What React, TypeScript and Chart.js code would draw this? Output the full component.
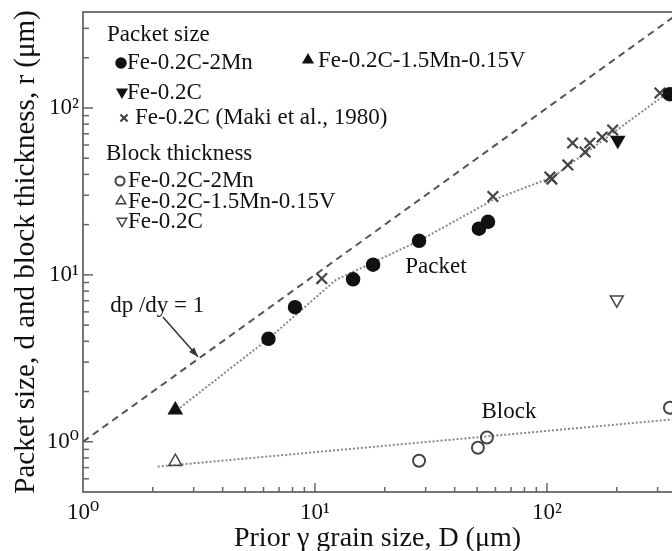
import React, { useEffect, useRef } from 'react';
import { Chart, registerables } from 'chart.js';
import { drawPoint } from 'chart.js/helpers';

Chart.register(...registerables);

type P = [number, number];

// ---- data (D in µm, size in µm) ----
const packetFe02C2Mn: P[] = [
  [6.3, 4.14], [8.2, 6.4], [14.6, 9.4], [17.8, 11.5], [28.1, 16.0],
  [50.9, 18.9], [55.7, 20.8], [338, 121],
];
const packetFe02C15Mn015V: P[] = [[2.5, 1.55]];
const packetFe02C: P[] = [[202, 64]];
const packetMaki1980: P[] = [
  [10.7, 9.5], [58.5, 29.5], [103, 38.6], [105, 37.5], [123, 45.6], [129, 61.7],
  [146, 54.5], [153, 61.7], [173, 67], [192, 73.8], [307, 123],
];
const blockFe02C2Mn: P[] = [[28.1, 0.77], [50.4, 0.92], [55.1, 1.06], [339, 1.6]];
const blockFe02C15Mn015V: P[] = [[2.5, 0.76]];
const blockFe02C: P[] = [[200, 7.1]];

const slopeOneLine: P[] = [[1, 1], [400, 400]];
const packetTrend: P[] = [
  [2.62, 1.6], [6.3, 4.14], [12.3, 9.33], [28.1, 16.0], [58.5, 28.1], [106, 38.6], [336, 125],
];
const blockTrend: P[] = [[2.1, 0.71], [345, 1.36]];

const xTickValues = [1, 10, 100];
const xTickLabels = ['10⁰', '10¹', '10²'];
const yTickValues = [1, 10, 100];
const yTickLabels = ['10⁰', '10¹', '10²'];

const SERIF = '"Liberation Serif", "Times New Roman", "DejaVu Serif", serif';
const INK = '#111';

const xy = (a: P[]) => a.map(([x, y]) => ({ x, y }));

const labelFor = (vals: number[], labels: string[]) => (value: number | string) => {
  const v = Number(value);
  const i = vals.findIndex((t) => Math.abs(t - v) < 1e-6 * t);
  return i >= 0 ? labels[i] : '';
};

// legend layout (pixel positions inside the plot)
const legendHeaders = [
  { text: 'Packet size', x: 107, y: 35 },
  { text: 'Block thickness', x: 106, y: 154 },
];
const legendEntries = [
  { ds: 0, mx: 121, my: 63, tx: 127, ty: 63 },
  { ds: 1, mx: 308, my: 60, tx: 318, ty: 61 },
  { ds: 2, mx: 122, my: 92, tx: 127, ty: 93 },
  { ds: 3, mx: 124, my: 118, tx: 135, ty: 118 },
  { ds: 4, mx: 120, my: 181, tx: 128, ty: 181 },
  { ds: 5, mx: 121, my: 201, tx: 128, ty: 202 },
  { ds: 6, mx: 122, my: 221, tx: 128, ty: 222 },
];
const legendTexts = [
  'Fe-0.2C-2Mn', 'Fe-0.2C-1.5Mn-0.15V', 'Fe-0.2C', 'Fe-0.2C (Maki et al., 1980)',
  'Fe-0.2C-2Mn', 'Fe-0.2C-1.5Mn-0.15V', 'Fe-0.2C',
];
const legendRadius = [5, 5.5, 5.5, 5, 4.5, 5.5, 5.5];

// annotations in data coordinates
const notes = [
  { text: 'Packet', x: 33.2, y: 11.2, align: 'center' as CanvasTextAlign },
  { text: 'Block', x: 68.6, y: 1.51, align: 'center' as CanvasTextAlign },
  { text: 'dp /dy = 1', x: 1.31, y: 6.52, align: 'left' as CanvasTextAlign },
];
const arrowFrom: P = [2.21, 5.6];
const arrowTo: P = [3.13, 3.23];

const isNice = (v: number) => {
  const e = Math.floor(Math.log10(v) + 1e-9);
  const m = v / Math.pow(10, e);
  return Math.abs(m - Math.round(m)) < 1e-6 ? Math.round(m) : 0;
};

const decorPlugin = {
  id: 'decor',
  afterDatasetsDraw(chart: any) {
    const { ctx, chartArea } = chart;
    const { left, right, top, bottom } = chartArea;
    const xs = chart.scales.x;
    const ys = chart.scales.y;
    ctx.save();
    // inward ticks
    ctx.strokeStyle = '#666';
    ctx.lineWidth = 1.5;
    for (const t of xs.ticks) {
      const m = isNice(t.value);
      if (!m) continue;
      const px = xs.getPixelForValue(t.value);
      if (px < left + 1 || px > right) continue;
      const len = m === 1 ? 9 : 5;
      ctx.beginPath();
      ctx.moveTo(px, bottom);
      ctx.lineTo(px, bottom - len);
      ctx.stroke();
    }
    for (const t of ys.ticks) {
      const m = isNice(t.value);
      if (!m) continue;
      const py = ys.getPixelForValue(t.value);
      if (py < top || py > bottom - 1) continue;
      const len = m === 1 ? 10 : 6;
      ctx.beginPath();
      ctx.moveTo(left, py);
      ctx.lineTo(left + len, py);
      ctx.stroke();
    }
    // top frame line
    ctx.strokeStyle = '#777';
    ctx.lineWidth = 2;
    ctx.beginPath();
    ctx.moveTo(left, top);
    ctx.lineTo(right, top);
    ctx.stroke();

    // annotations
    ctx.fillStyle = INK;
    ctx.font = `23px ${SERIF}`;
    ctx.textBaseline = 'middle';
    for (const n of notes) {
      ctx.textAlign = n.align;
      ctx.fillText(n.text, xs.getPixelForValue(n.x), ys.getPixelForValue(n.y));
    }
    // arrow
    const ax1 = xs.getPixelForValue(arrowFrom[0]);
    const ay1 = ys.getPixelForValue(arrowFrom[1]);
    const ax2 = xs.getPixelForValue(arrowTo[0]);
    const ay2 = ys.getPixelForValue(arrowTo[1]);
    ctx.strokeStyle = '#333';
    ctx.lineWidth = 1.5;
    ctx.beginPath();
    ctx.moveTo(ax1, ay1);
    ctx.lineTo(ax2, ay2);
    ctx.stroke();
    const ang = Math.atan2(ay2 - ay1, ax2 - ax1);
    ctx.beginPath();
    ctx.moveTo(ax2, ay2);
    ctx.lineTo(ax2 - 10 * Math.cos(ang - 0.35), ay2 - 10 * Math.sin(ang - 0.35));
    ctx.lineTo(ax2 - 10 * Math.cos(ang + 0.35), ay2 - 10 * Math.sin(ang + 0.35));
    ctx.closePath();
    ctx.fillStyle = '#333';
    ctx.fill();

    // legend
    ctx.fillStyle = INK;
    ctx.textAlign = 'left';
    for (const h of legendHeaders) ctx.fillText(h.text, h.x, h.y);
    legendEntries.forEach((e, i) => {
      const ds = chart.data.datasets[e.ds];
      ctx.fillStyle = ds.pointBackgroundColor;
      ctx.strokeStyle = ds.pointBorderColor;
      ctx.lineWidth = ds.pointBorderWidth;
      drawPoint(ctx, {
        pointStyle: ds.pointStyle,
        rotation: ds.pointRotation || 0,
        radius: legendRadius[i],
        borderWidth: ds.pointBorderWidth,
      } as any, e.mx, e.my);
      ctx.fillStyle = INK;
      ctx.fillText(legendTexts[i], e.tx, e.ty);
    });
    ctx.restore();
  },
};

const markerSet = (
  label: string, data: P[], style: string, filled: boolean, radius: number, rotation = 0, width = 1.5,
) => ({
  type: 'scatter' as const,
  label,
  data: xy(data),
  showLine: false,
  pointStyle: style,
  pointRotation: rotation,
  pointRadius: radius,
  pointHoverRadius: radius,
  pointBackgroundColor: filled ? INK : 'rgba(255,255,255,0)',
  pointBorderColor: filled ? INK : '#444',
  pointBorderWidth: width,
});

const lineSet = (label: string, data: P[], color: string, dash: number[], width: number) => ({
  type: 'line' as const,
  label,
  data: xy(data),
  borderColor: color,
  borderWidth: width,
  borderDash: dash,
  pointRadius: 0,
  fill: false,
  tension: 0,
});

export default function App() {
  const ref = useRef<HTMLCanvasElement>(null);
  useEffect(() => {
    if (!ref.current) return;
    const chart = new Chart(ref.current, {
      type: 'scatter',
      data: {
        datasets: [
          markerSet('Packet Fe-0.2C-2Mn', packetFe02C2Mn, 'circle', true, 6.5),
          markerSet('Packet Fe-0.2C-1.5Mn-0.15V', packetFe02C15Mn015V, 'triangle', true, 7.5),
          markerSet('Packet Fe-0.2C', packetFe02C, 'triangle', true, 7.5, 180),
          markerSet('Packet Fe-0.2C (Maki et al., 1980)', packetMaki1980, 'crossRot', false, 7.5, 0, 2.2),
          markerSet('Block Fe-0.2C-2Mn', blockFe02C2Mn, 'circle', false, 6, 0, 2),
          markerSet('Block Fe-0.2C-1.5Mn-0.15V', blockFe02C15Mn015V, 'triangle', false, 7.5, 0, 1.5),
          markerSet('Block Fe-0.2C', blockFe02C, 'triangle', false, 7.5, 180, 1.5),
          lineSet('dp/dy = 1', slopeOneLine, '#555', [7, 5], 2),
          lineSet('Packet trend', packetTrend, '#888', [2, 2], 2),
          lineSet('Block trend', blockTrend, '#888', [2, 2], 2),
        ] as any,
      },
      options: {
        animation: false,
        responsive: false,
        maintainAspectRatio: false,
        layout: { autoPadding: false, padding: { top: 12, right: 0, left: 0, bottom: 0 } },
        plugins: { legend: { display: false }, tooltip: { enabled: false } },
        scales: {
          x: {
            type: 'logarithmic',
            min: 1,
            max: 346,
            position: 'bottom',
            grid: { display: false, drawTicks: true, tickLength: 7 },
            border: { color: '#777', width: 2 },
            ticks: {
              autoSkip: false,
              maxRotation: 0,
              padding: 0,
              color: INK,
              font: { family: SERIF, size: 23 },
              callback: labelFor(xTickValues, xTickLabels),
            },
            title: {
              display: true,
              text: 'Prior γ grain size, D (μm)',
              color: INK,
              font: { family: SERIF, size: 28, lineHeight: 0.9 },
              padding: 0,
            },
            afterFit: (s: any) => { s.height = 59; },
          },
          y: {
            type: 'logarithmic',
            min: 0.5,
            max: 376,
            grid: { display: false, drawTicks: true, tickLength: 4 },
            border: { color: '#777', width: 2 },
            ticks: {
              autoSkip: false,
              padding: 0,
              color: INK,
              font: { family: SERIF, size: 23, lineHeight: 0.7 },
              callback: labelFor(yTickValues, yTickLabels),
            },
            title: {
              display: true,
              text: 'Packet size, d and block thickness, r (μm)',
              color: INK,
              font: { family: SERIF, size: 29 },
              padding: { top: 9, bottom: 0 },
            },
            afterFit: (s: any) => { s.width = 83; },
          },
        },
      } as any,
      plugins: [decorPlugin],
    });
    return () => chart.destroy();
  }, []);
  return (
    <div style={{ position: 'fixed', left: 0, top: 0, width: 672, height: 551, background: '#fff' }}>
      <canvas ref={ref} width={672} height={551} style={{ display: 'block', width: 672, height: 551 }} />
    </div>
  );
}
